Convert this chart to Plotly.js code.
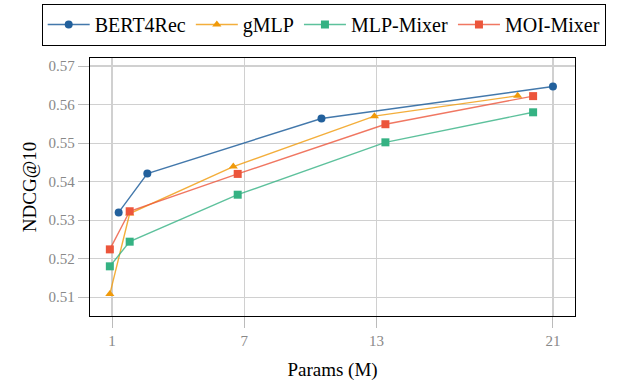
<!DOCTYPE html>
<html><head><meta charset="utf-8">
<script src="https://cdn.plot.ly/plotly-3.0.1.min.js"></script>
<style>html,body{margin:0;padding:0;background:#fff}#c{width:623px;height:384px}</style>
</head><body><div id="c"></div>
<script>
const bertX = [1.3, 2.6, 10.5, 21.0];
const bertY = [0.5320, 0.5421, 0.5564, 0.5647];
const gmlpX = [0.9, 1.8, 6.5, 12.9, 19.4];
const gmlpY = [0.5108, 0.5317, 0.5439, 0.5570, 0.5623];
const mlpX = [0.9, 1.8, 6.7, 13.4, 20.1];
const mlpY = [0.5180, 0.5244, 0.5366, 0.5502, 0.5580];
const moiX = [0.9, 1.8, 6.7, 13.4, 20.1];
const moiY = [0.5224, 0.5323, 0.5420, 0.5549, 0.5622];
const xTicks = [1, 7, 13, 21];
const yTicks = [0.51, 0.52, 0.53, 0.54, 0.55, 0.56, 0.57];

const mk = (name, x, y, color, line, symbol, size) => ({
  type: 'scatter', mode: 'lines+markers', name, x, y,
  line: {color: line, width: 1.4},
  marker: {color: color, symbol: symbol, size: size}
});
const data = [
  mk('BERT4Rec', bertX, bertY, '#22609c', 'rgba(34,96,156,0.85)', 'circle', 8),
  mk('gMLP', gmlpX, gmlpY, '#f09a0a', 'rgba(240,154,10,0.8)', 'triangle-up', 8),
  mk('MLP-Mixer', mlpX, mlpY, '#35b283', 'rgba(53,178,131,0.8)', 'square', 8),
  mk('MOI-Mixer', moiX, moiY, '#ec553b', 'rgba(236,85,59,0.8)', 'square', 8)
];
const serif = 'Liberation Serif';
const layout = {
  width: 623, height: 384,
  margin: {l: 90, r: 48, t: 58, b: 68, autoexpand: false},
  paper_bgcolor: '#fff', plot_bgcolor: '#fff',
  font: {family: serif, color: '#000'},
  showlegend: true,
  legend: {
    orientation: 'h', x: -0.1, xanchor: 'left', y: 1.21, yanchor: 'top',
    bordercolor: '#000', borderwidth: 1.2, font: {family: serif, size: 20, color: '#000'},
    itemwidth: 42, tracegroupgap: 0
  },
  xaxis: {
    range: [0, 22], tickvals: xTicks, ticktext: xTicks.map(String),
    showgrid: true, gridcolor: '#d0d0d0', gridwidth: 1.2,
    zeroline: false, showline: true, linecolor: '#000', linewidth: 1.3, mirror: true,
    ticks: 'outside', ticklen: 11, tickcolor: '#bbb', tickwidth: 1,
    tickfont: {family: serif, size: 15, color: '#888'},
    title: {text: 'Params (M)', font: {family: serif, size: 19, color: '#000'}, standoff: 14}
  },
  yaxis: {
    range: [0.5051, 0.5721], tickvals: yTicks, ticktext: yTicks.map(v => v.toFixed(2)),
    showgrid: true, gridcolor: '#d0d0d0', gridwidth: 1.2,
    zeroline: false, showline: true, linecolor: '#000', linewidth: 1.3, mirror: true,
    ticks: 'outside', ticklen: 11, tickcolor: '#bbb', tickwidth: 1,
    tickfont: {family: serif, size: 15, color: '#888'},
    title: {text: 'NDCG@10', font: {family: serif, size: 19, color: '#000'}, standoff: 6}
  }
};
Plotly.newPlot('c', data, layout, {displayModeBar: false, staticPlot: true});
</script></body></html>
